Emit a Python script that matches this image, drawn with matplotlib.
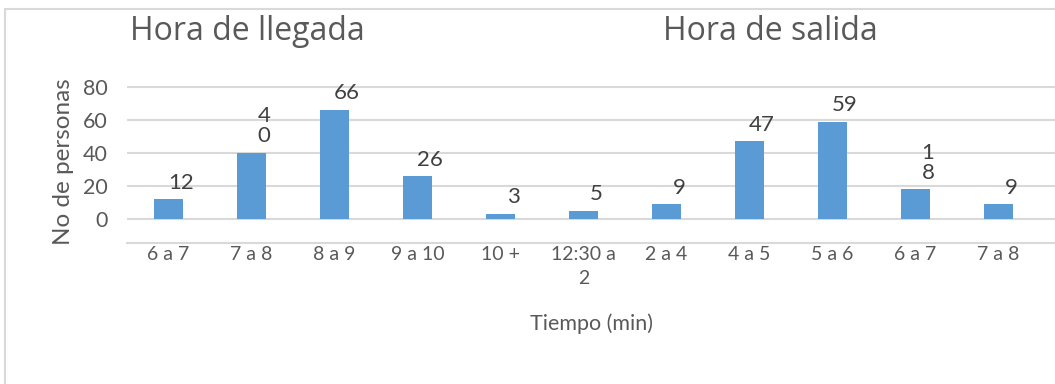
import matplotlib.pyplot as plt
from matplotlib.patches import Rectangle

# Llegada / salida por franja horaria
categorias = ["6 a 7", "7 a 8", "8 a 9", "9 a 10", "10 +", "12:30 a\n2",
              "2 a 4", "4 a 5", "5 a 6", "6 a 7", "7 a 8"]
personas = [12, 40, 66, 26, 3, 5, 9, 47, 59, 18, 9]
etiquetas_partidas = [1, 9]  # etiquetas que salen en dos líneas
yticks = [0, 20, 40, 60, 80]

azul = "#5b9bd5"
gris = "#d9d9d9"
texto = "#595959"

plt.rcParams["font.family"] = ["Lato", "DejaVu Sans"]

fig = plt.figure(figsize=(10.55, 3.84), dpi=100)
W, H = 1055, 384
ax = fig.add_axes([127 / W, (H - 243) / H, (W - 127) / W, (243 - 80) / H])

x = list(range(len(categorias)))
ax.bar(x, personas, width=0.36, color=azul, zorder=2)

for i, v in enumerate(personas):
    txt = "\n".join(str(v)) if i in etiquetas_partidas else str(v)
    ax.text(i + 0.15, v + 4, txt, ha="center", va="bottom", fontsize=16,
            color="#404040", linespacing=1.0, zorder=3)

ax.set_xlim(-0.5, 10.68)
ax.set_ylim(-14.5, 84.2)
ax.set_yticks(yticks)
ax.set_xticks(x)
ax.set_xticklabels(categorias, fontsize=14, color=texto, linespacing=1.5)
ax.tick_params(axis="y", labelsize=15.5, colors=texto, length=0, pad=14)
ax.tick_params(axis="x", length=0, pad=2)
for yv in yticks:
    ax.axhline(yv, color=gris, lw=1.5, zorder=1)

for s in ["top", "right", "left"]:
    ax.spines[s].set_visible(False)
ax.spines["bottom"].set_color(gris)
ax.spines["bottom"].set_linewidth(1.5)

ax.set_ylabel("No de personas", fontsize=17.5, color=texto, labelpad=6)
ax.set_xlabel("Tiempo (min)", fontsize=15.5, color=texto, labelpad=19)

fig.text(247 / W, 1 - 32 / H, "Hora de llegada", family="Open Sans",
         fontsize=23, color=texto, ha="center", va="center")
fig.text(770 / W, 1 - 32 / H, "Hora de salida", family="Open Sans",
         fontsize=23, color=texto, ha="center", va="center")

fig.patches.append(Rectangle((5 / W, -0.01), 1, 1 - 9 / H + 0.01,
                             transform=fig.transFigure, fill=False,
                             edgecolor=gris, lw=1.5))

fig.savefig("out.png", dpi=100)
